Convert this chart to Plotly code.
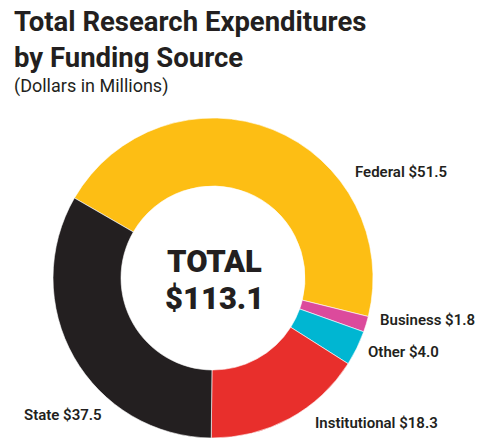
import plotly.graph_objects as go

# Funding sources (dollars in millions)
sources = ["Federal", "Business", "Other", "Institutional", "State"]
amounts = [51.5, 1.8, 4.0, 18.3, 37.5]
colors = ["#FDBE14", "#DC4A9C", "#00B6D2", "#E82F2C", "#231F20"]
total = 113.1

W, H = 479, 440
ink = "#231F20"
font_family = "Roboto, Liberation Sans, sans-serif"

fig = go.Figure(
    go.Pie(
        labels=sources,
        values=amounts,
        marker=dict(colors=colors, line=dict(color="white", width=0.6)),
        hole=0.575,
        sort=False,
        direction="clockwise",
        rotation=-60,
        textinfo="none",
        hoverinfo="label+value",
        showlegend=False,
        domain=dict(x=[53 / W, 373 / W], y=[(H - 438) / H, (H - 118) / H]),
    )
)

# label placement (paper coords, left anchor)
label_pos = {
    "Federal": (353, 172),
    "Business": (378, 320),
    "Other": (366, 352),
    "Institutional": (313, 423),
    "State": (22, 415),
}

annotations = []
for name, amt in zip(sources, amounts):
    px, py = label_pos[name]
    annotations.append(dict(
        x=px / W, y=1 - py / H, xref="paper", yref="paper",
        xanchor="left", yanchor="middle", showarrow=False,
        text=f"{name} ${amt:.1f}",
        font=dict(family=font_family, size=15, color=ink, weight=600),
    ))

# title and subtitle
annotations.append(dict(
    x=12 / W, y=1 - 3 / H, xref="paper", yref="paper",
    xanchor="left", yanchor="top", showarrow=False, align="left",
    text="Total Research Expenditures<br>by Funding Source",
    font=dict(family=font_family, size=27.5, color=ink, weight=700),
))
annotations.append(dict(
    x=12 / W, y=1 - 86 / H, xref="paper", yref="paper",
    xanchor="left", yanchor="middle", showarrow=False,
    text="(Dollars in Millions)",
    font=dict(family=font_family, size=18, color=ink),
))

# centre total, two lines set tight
annotations.append(dict(
    x=214 / W, y=1 - 261 / H, xref="paper", yref="paper",
    xanchor="center", yanchor="middle", showarrow=False,
    text="TOTAL",
    font=dict(family=font_family, size=31, color=ink, weight=900),
))
annotations.append(dict(
    x=214 / W, y=1 - 298 / H, xref="paper", yref="paper",
    xanchor="center", yanchor="middle", showarrow=False,
    text=f"${total:.1f}",
    font=dict(family=font_family, size=31, color=ink, weight=900),
))

fig.update_layout(
    width=W, height=H,
    margin=dict(l=0, r=0, t=0, b=0),
    paper_bgcolor="white",
    plot_bgcolor="white",
    annotations=annotations,
)

fig.write_html("out.html")
